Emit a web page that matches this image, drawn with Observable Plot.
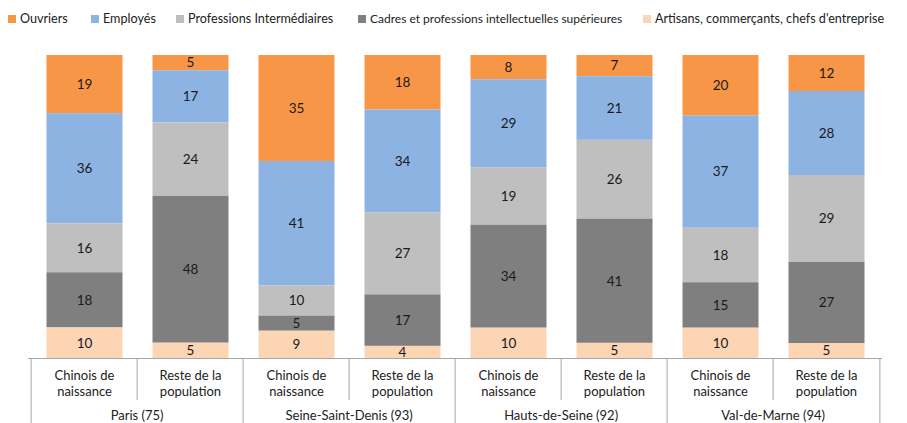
<!DOCTYPE html>
<html>
<head>
<meta charset="utf-8">
<script src="https://cdn.jsdelivr.net/npm/d3@7"></script>
<script src="https://cdn.jsdelivr.net/npm/@observablehq/plot@0.6"></script>
<style>
  html, body { margin: 0; padding: 0; background: #fff; }
  #legend { position: relative; height: 36px; width: 907px; font-family: Lato, sans-serif; color: #222; }
  .item { position: absolute; top: 11px; display: flex; align-items: center; white-space: nowrap; }
  .sw { width: 8px; height: 8px; margin-right: 4px; }
  svg { display: block; }
</style>
</head>
<body>
<div id="legend"></div>
<div id="chart"></div>
<script>
const departements = ["Paris (75)", "Seine-Saint-Denis (93)", "Hauts-de-Seine (92)", "Val-de-Marne (94)"];
const populations = ["Chinois de\nnaissance", "Reste de la\npopulation"];
const categories = ["Ouvriers", "Employés", "Professions Intermédiaires", "Cadres et professions intellectuelles supérieures", "Artisans, commerçants, chefs d'entreprise"];
const colors = ["#F79646", "#8DB3E2", "#BFBFBF", "#7F7F7F", "#FCD5B5"];
// values per category, bars in order: Paris C, Paris R, 93 C, 93 R, 92 C, 92 R, 94 C, 94 R
const ouvriers = [19, 5, 35, 18, 8, 7, 20, 12];
const employes = [36, 17, 41, 34, 29, 21, 37, 28];
const profInter = [16, 24, 10, 27, 19, 26, 18, 29];
const cadres = [18, 48, 5, 17, 34, 41, 15, 27];
const artisans = [10, 5, 9, 4, 10, 5, 10, 5];
const series = [ouvriers, employes, profInter, cadres, artisans];

const bars = departements.flatMap(d => populations.map(p => ({key: d + "|" + p, dept: d, pop: p})));
const data = [];
categories.forEach((c, ci) => bars.forEach((b, bi) => data.push({key: b.key, cat: c, value: series[ci][bi]})));
const stackOrder = categories.slice().reverse(); // bottom to top

// legend
const legendX = [8, 91, 176, 358, 643];
const legendSize = [12.6, 12.6, 12.6, 12, 12.6];
const leg = document.getElementById("legend");
categories.forEach((c, i) => {
  const it = document.createElement("div");
  it.className = "item";
  it.style.left = legendX[i] + "px";
  it.style.fontSize = legendSize[i] + "px";
  it.innerHTML = `<span class="sw" style="background:${colors[i]}"></span><span></span>`;
  it.lastChild.textContent = c;
  leg.appendChild(it);
});

const W = 907, H = 387, mL = 28, mR = 25, mT = 19, mB = 65;
const step = (W - mL - mR) / bars.length;
const lineColor = "#A6A6A6";
const innerKeys = bars.filter((b, i) => i % 2 === 1);
const groupStarts = bars.filter((b, i) => i % 2 === 0);

const chart = Plot.plot({
  width: W, height: H,
  marginLeft: mL, marginRight: mR, marginTop: mT, marginBottom: mB,
  style: {fontFamily: "Lato, sans-serif", fontSize: "13px", color: "#222", background: "white"},
  x: {domain: bars.map(b => b.key), padding: 0, axis: null},
  y: {domain: [0, 1], axis: null},
  color: {domain: categories, range: colors},
  marks: [
    Plot.barY(data, Plot.stackY({x: "key", y: "value", z: "cat", fill: "cat", order: stackOrder, offset: "normalize", insetLeft: 15.5, insetRight: 14.5})),
    Plot.text(data, Plot.stackY({x: "key", y: "value", z: "cat", order: stackOrder, offset: "normalize", text: "value", fill: "#1a1a1a", fontSize: 13.5})),
    Plot.ruleY([0], {stroke: lineColor}),
    // inner dividers
    Plot.ruleX(innerKeys, {x: "key", dx: -step / 2, stroke: lineColor, insetTop: H - mT - mB, insetBottom: -42}),
    // group dividers
    Plot.ruleX(groupStarts, {x: "key", dx: -step / 2, stroke: lineColor, insetTop: H - mT - mB, insetBottom: -mB}),
    Plot.ruleX([bars[bars.length - 1]], {x: "key", dx: step / 2, stroke: lineColor, insetTop: H - mT - mB, insetBottom: -mB}),
    // sub labels
    Plot.text(bars, {x: "key", text: "pop", frameAnchor: "bottom", lineAnchor: "middle", dy: 24, lineHeight: 1.22, fill: "#222"}),
    // group labels
    Plot.text(innerKeys, {x: "key", text: "dept", dx: -step / 2, frameAnchor: "bottom", lineAnchor: "middle", dy: 57, fill: "#222"})
  ]
});
document.getElementById("chart").appendChild(chart);
</script>
</body>
</html>
